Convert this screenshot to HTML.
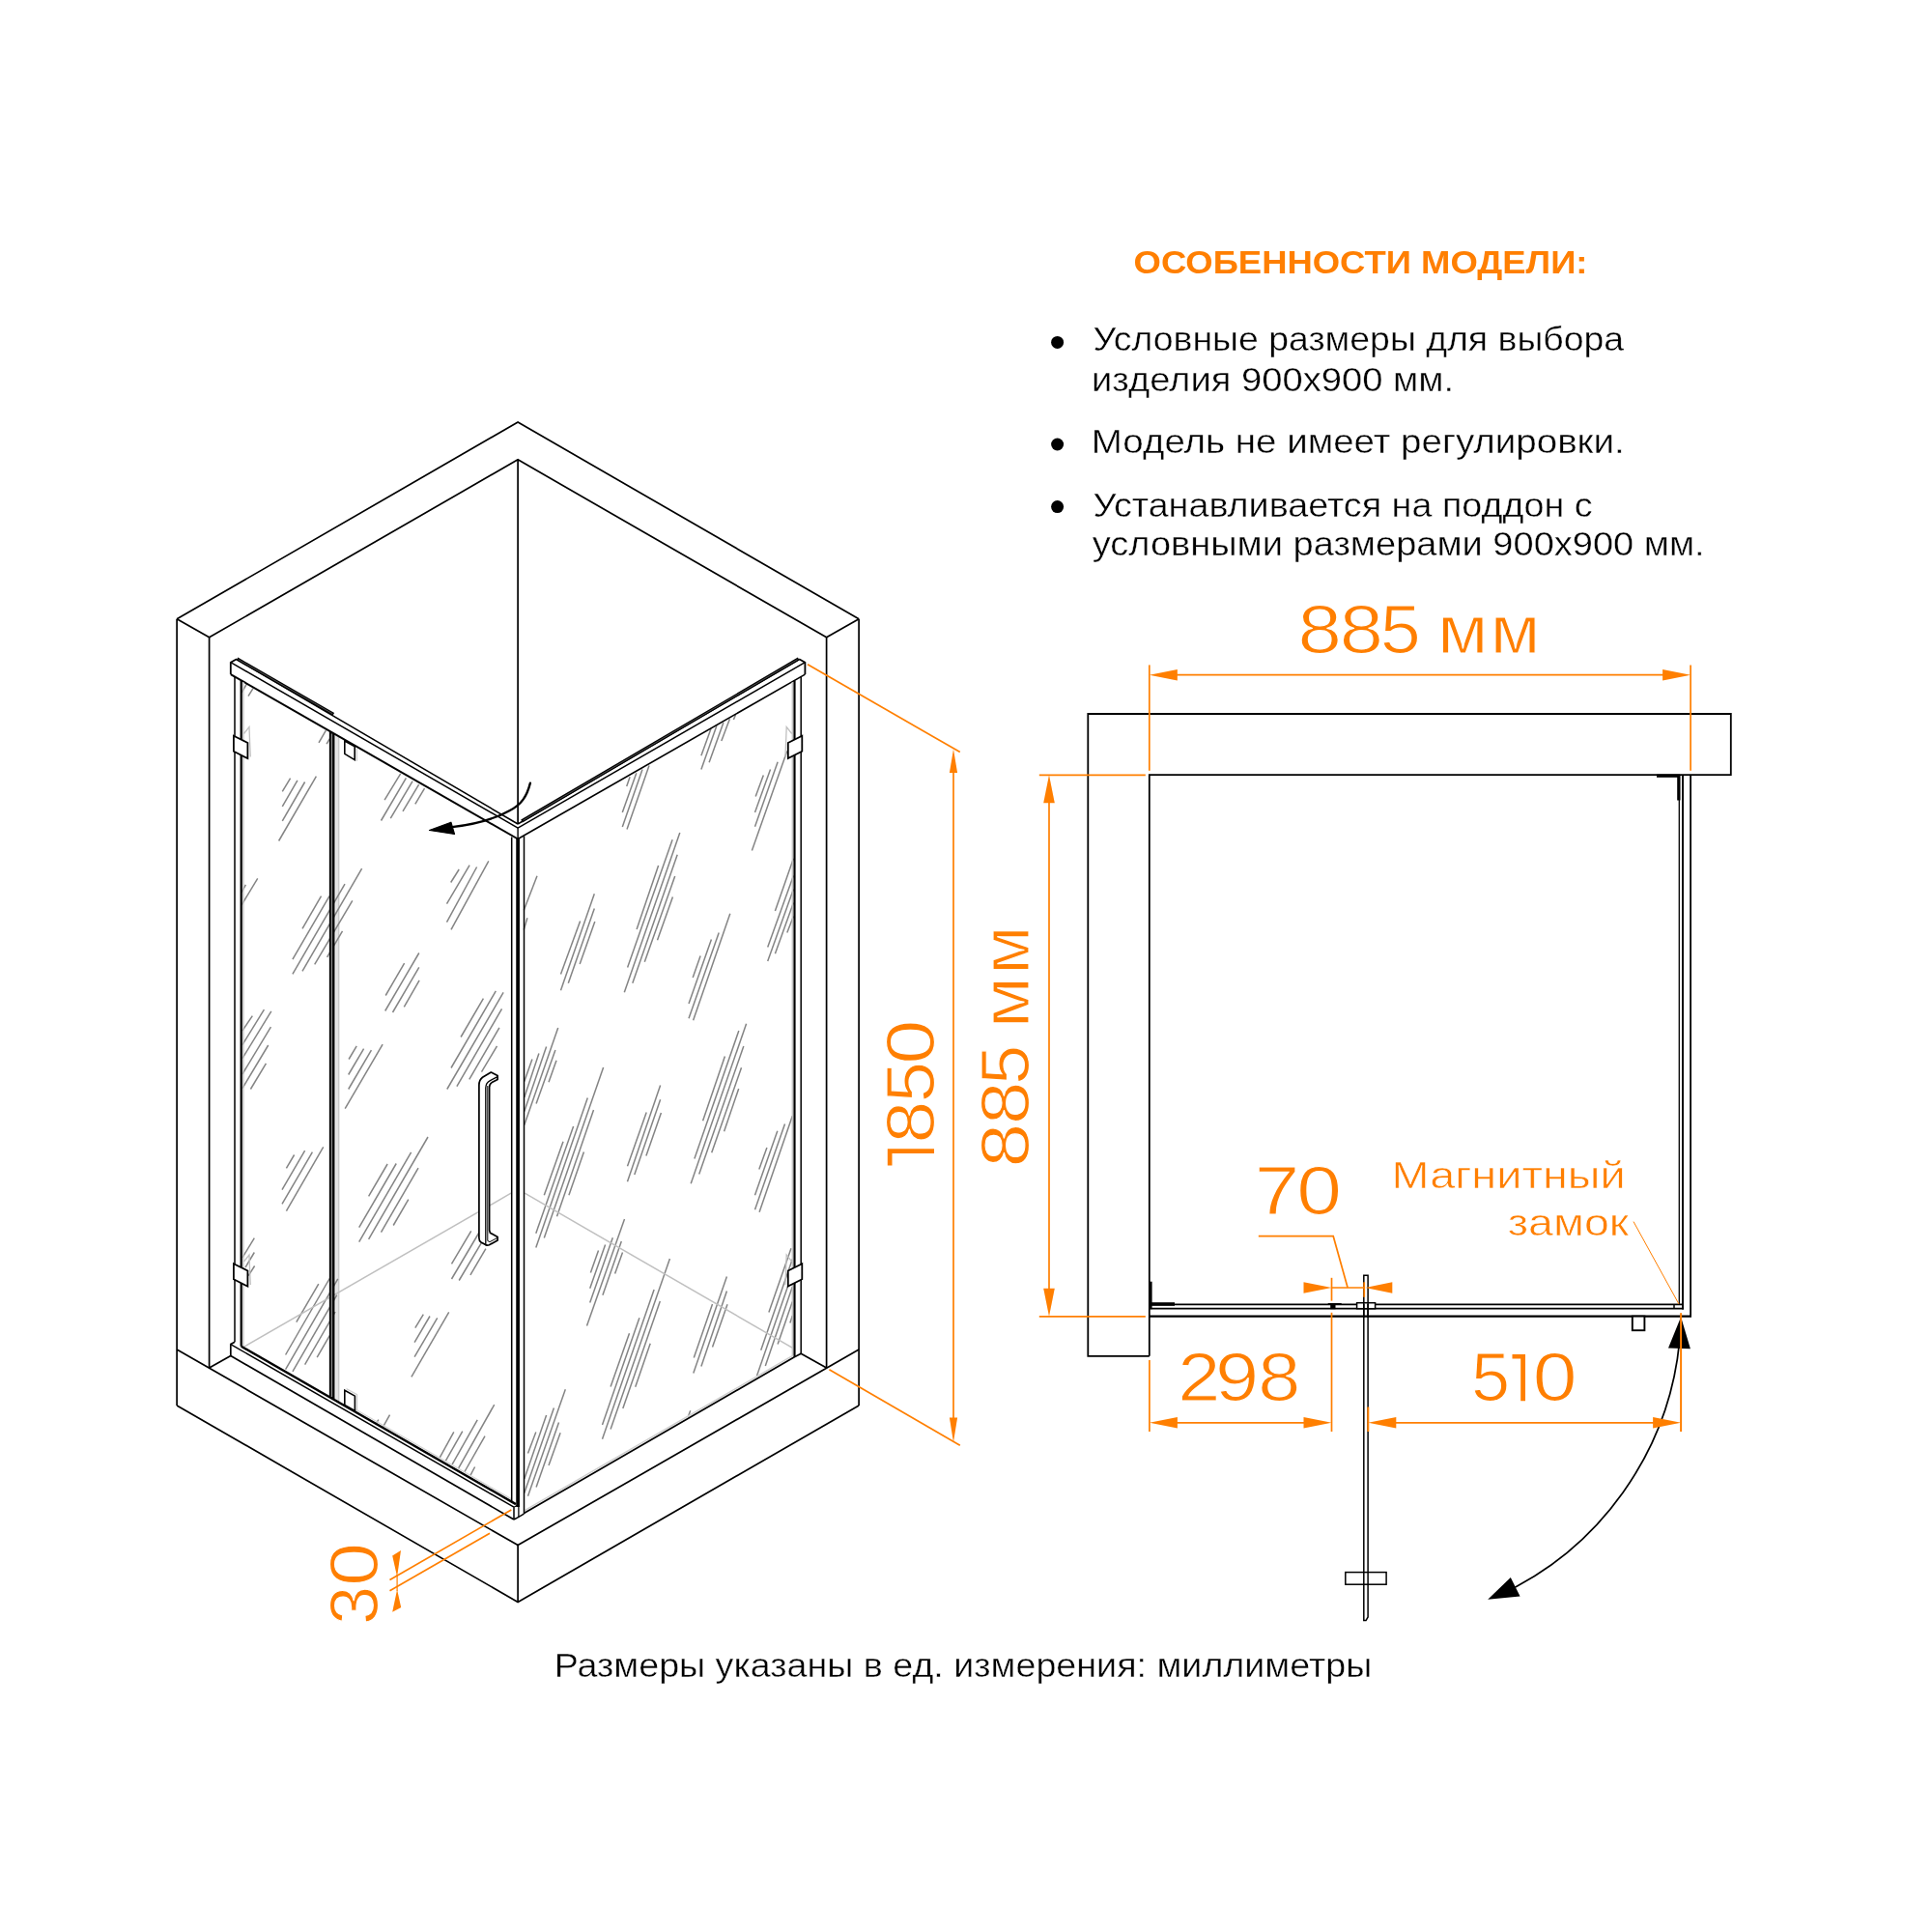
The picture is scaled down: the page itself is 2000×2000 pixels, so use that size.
<!DOCTYPE html>
<html><head><meta charset="utf-8"><title>Shower enclosure drawing</title>
<style>
html,body{margin:0;padding:0;background:#fff;}
body{width:2000px;height:2000px;overflow:hidden;font-family:"Liberation Sans",sans-serif;}
svg{display:block;}
</style></head>
<body>
<svg width="2000" height="2000" viewBox="0 0 2000 2000">
<rect width="2000" height="2000" fill="#fff"/>
<polygon points="347.4,760.8 350.9,762.8 350.9,1451.2 347.4,1449.2" fill="#e4e4e4" stroke="#e4e4e4" stroke-width="0.1" stroke-linejoin="miter" />
<line x1="350.8" y1="763.0" x2="350.8" y2="1451.0" stroke="#c0c0c0" stroke-width="1.0" />
<g id="hatch" stroke-linecap="butt">
<line x1="292.3" y1="819.3" x2="300.6" y2="805.6" stroke="#848484" stroke-width="1.5" />
<line x1="292.3" y1="834.8" x2="307.9" y2="807.9" stroke="#848484" stroke-width="1.5" />
<line x1="292.3" y1="849.8" x2="315.6" y2="809.5" stroke="#848484" stroke-width="1.5" />
<line x1="288.6" y1="870.5" x2="327.4" y2="803.7" stroke="#848484" stroke-width="1.5" />
<line x1="250.1" y1="717.0" x2="255.5" y2="707.8" stroke="#848484" stroke-width="1.5" />
<line x1="257.0" y1="720.6" x2="262.0" y2="712.7" stroke="#848484" stroke-width="1.5" />
<line x1="330.0" y1="768.8" x2="337.4" y2="756.2" stroke="#848484" stroke-width="1.5" />
<line x1="338.1" y1="770.2" x2="341.2" y2="764.8" stroke="#848484" stroke-width="1.5" />
<line x1="398.1" y1="828.1" x2="414.7" y2="800.9" stroke="#848484" stroke-width="1.5" />
<line x1="394.5" y1="849.5" x2="420.4" y2="805.3" stroke="#848484" stroke-width="1.5" />
<line x1="404.3" y1="847.2" x2="427.1" y2="808.7" stroke="#848484" stroke-width="1.5" />
<line x1="417.0" y1="839.8" x2="433.6" y2="812.1" stroke="#848484" stroke-width="1.5" />
<line x1="429.8" y1="832.3" x2="439.5" y2="816.1" stroke="#848484" stroke-width="1.5" />
<line x1="466.7" y1="913.5" x2="475.2" y2="900.0" stroke="#848484" stroke-width="1.5" />
<line x1="462.5" y1="935.7" x2="486.1" y2="895.7" stroke="#848484" stroke-width="1.5" />
<line x1="462.5" y1="954.7" x2="493.6" y2="897.5" stroke="#848484" stroke-width="1.5" />
<line x1="467.0" y1="962.4" x2="505.8" y2="891.3" stroke="#848484" stroke-width="1.5" />
<line x1="250.1" y1="923.6" x2="254.4" y2="915.8" stroke="#848484" stroke-width="1.5" />
<line x1="250.1" y1="936.8" x2="266.7" y2="909.3" stroke="#848484" stroke-width="1.5" />
<line x1="313.0" y1="961.3" x2="332.5" y2="927.6" stroke="#848484" stroke-width="1.5" />
<line x1="302.9" y1="993.2" x2="341.0" y2="927.6" stroke="#848484" stroke-width="1.5" />
<line x1="302.9" y1="1008.3" x2="357.0" y2="915.2" stroke="#848484" stroke-width="1.5" />
<line x1="313.0" y1="1005.3" x2="374.6" y2="899.2" stroke="#848484" stroke-width="1.5" />
<line x1="325.7" y1="998.3" x2="364.8" y2="932.3" stroke="#848484" stroke-width="1.5" />
<line x1="338.6" y1="990.9" x2="354.5" y2="963.9" stroke="#848484" stroke-width="1.5" />
<line x1="250.9" y1="1067.0" x2="261.3" y2="1051.7" stroke="#848484" stroke-width="1.5" />
<line x1="250.9" y1="1081.7" x2="273.4" y2="1045.2" stroke="#848484" stroke-width="1.5" />
<line x1="250.9" y1="1095.7" x2="280.8" y2="1046.8" stroke="#848484" stroke-width="1.5" />
<line x1="250.9" y1="1112.0" x2="280.4" y2="1063.1" stroke="#848484" stroke-width="1.5" />
<line x1="250.9" y1="1126.7" x2="277.7" y2="1082.0" stroke="#848484" stroke-width="1.5" />
<line x1="259.4" y1="1127.5" x2="275.4" y2="1100.8" stroke="#848484" stroke-width="1.5" />
<line x1="296.4" y1="1209.3" x2="304.6" y2="1195.5" stroke="#848484" stroke-width="1.5" />
<line x1="292.0" y1="1231.6" x2="315.6" y2="1191.2" stroke="#848484" stroke-width="1.5" />
<line x1="292.0" y1="1246.3" x2="323.4" y2="1192.7" stroke="#848484" stroke-width="1.5" />
<line x1="296.4" y1="1253.6" x2="334.7" y2="1187.3" stroke="#848484" stroke-width="1.5" />
<line x1="399.2" y1="1030.5" x2="418.6" y2="997.1" stroke="#848484" stroke-width="1.5" />
<line x1="398.7" y1="1046.5" x2="433.8" y2="986.5" stroke="#848484" stroke-width="1.5" />
<line x1="406.5" y1="1048.0" x2="433.8" y2="1001.4" stroke="#848484" stroke-width="1.5" />
<line x1="418.3" y1="1042.4" x2="434.1" y2="1014.9" stroke="#848484" stroke-width="1.5" />
<line x1="361.1" y1="1096.5" x2="369.2" y2="1082.8" stroke="#848484" stroke-width="1.5" />
<line x1="360.7" y1="1112.5" x2="376.6" y2="1085.6" stroke="#848484" stroke-width="1.5" />
<line x1="360.7" y1="1127.5" x2="384.4" y2="1087.1" stroke="#848484" stroke-width="1.5" />
<line x1="357.2" y1="1147.7" x2="396.1" y2="1081.2" stroke="#848484" stroke-width="1.5" />
<line x1="477.1" y1="1073.5" x2="500.4" y2="1033.6" stroke="#848484" stroke-width="1.5" />
<line x1="467.0" y1="1105.5" x2="513.3" y2="1025.8" stroke="#848484" stroke-width="1.5" />
<line x1="462.8" y1="1127.5" x2="521.1" y2="1027.4" stroke="#848484" stroke-width="1.5" />
<line x1="472.9" y1="1124.7" x2="519.5" y2="1044.4" stroke="#848484" stroke-width="1.5" />
<line x1="485.8" y1="1117.4" x2="516.9" y2="1063.9" stroke="#848484" stroke-width="1.5" />
<line x1="498.5" y1="1109.7" x2="514.5" y2="1082.8" stroke="#848484" stroke-width="1.5" />
<line x1="381.6" y1="1238.3" x2="401.1" y2="1205.0" stroke="#848484" stroke-width="1.5" />
<line x1="371.7" y1="1270.6" x2="410.2" y2="1204.5" stroke="#848484" stroke-width="1.5" />
<line x1="371.7" y1="1285.6" x2="425.6" y2="1192.8" stroke="#848484" stroke-width="1.5" />
<line x1="381.6" y1="1282.8" x2="443.0" y2="1177.0" stroke="#848484" stroke-width="1.5" />
<line x1="394.5" y1="1275.6" x2="433.0" y2="1209.2" stroke="#848484" stroke-width="1.5" />
<line x1="407.2" y1="1268.5" x2="422.8" y2="1241.6" stroke="#848484" stroke-width="1.5" />
<line x1="467.5" y1="1308.4" x2="487.7" y2="1274.4" stroke="#848484" stroke-width="1.5" />
<line x1="467.5" y1="1324.0" x2="496.2" y2="1275.5" stroke="#848484" stroke-width="1.5" />
<line x1="475.2" y1="1325.5" x2="498.5" y2="1286.4" stroke="#848484" stroke-width="1.5" />
<line x1="486.9" y1="1319.8" x2="502.9" y2="1292.6" stroke="#848484" stroke-width="1.5" />
<line x1="429.8" y1="1374.6" x2="438.3" y2="1360.6" stroke="#848484" stroke-width="1.5" />
<line x1="429.1" y1="1389.7" x2="445.0" y2="1362.5" stroke="#848484" stroke-width="1.5" />
<line x1="429.1" y1="1404.7" x2="452.7" y2="1364.3" stroke="#848484" stroke-width="1.5" />
<line x1="425.9" y1="1425.4" x2="464.7" y2="1358.3" stroke="#848484" stroke-width="1.5" />
<line x1="455.1" y1="1509.2" x2="469.8" y2="1482.4" stroke="#848484" stroke-width="1.5" />
<line x1="461.3" y1="1512.3" x2="478.8" y2="1481.6" stroke="#848484" stroke-width="1.5" />
<line x1="468.0" y1="1516.2" x2="494.2" y2="1469.9" stroke="#848484" stroke-width="1.5" />
<line x1="474.5" y1="1520.1" x2="511.7" y2="1454.1" stroke="#848484" stroke-width="1.5" />
<line x1="480.7" y1="1524.0" x2="502.0" y2="1486.7" stroke="#848484" stroke-width="1.5" />
<line x1="486.9" y1="1527.4" x2="491.6" y2="1518.5" stroke="#848484" stroke-width="1.5" />
<line x1="396.8" y1="1476.6" x2="403.5" y2="1464.7" stroke="#848484" stroke-width="1.5" />
<line x1="389.8" y1="1472.7" x2="391.9" y2="1469.6" stroke="#848484" stroke-width="1.5" />
<line x1="250.9" y1="1301.9" x2="263.3" y2="1281.7" stroke="#848484" stroke-width="1.5" />
<line x1="254.0" y1="1312.0" x2="263.3" y2="1296.5" stroke="#848484" stroke-width="1.5" />
<line x1="257.1" y1="1320.6" x2="263.6" y2="1310.5" stroke="#848484" stroke-width="1.5" />
<line x1="306.8" y1="1368.7" x2="329.8" y2="1329.1" stroke="#848484" stroke-width="1.5" />
<line x1="295.6" y1="1402.5" x2="341.2" y2="1323.5" stroke="#848484" stroke-width="1.5" />
<line x1="295.6" y1="1417.6" x2="349.8" y2="1323.8" stroke="#848484" stroke-width="1.5" />
<line x1="302.9" y1="1419.9" x2="348.7" y2="1340.6" stroke="#848484" stroke-width="1.5" />
<line x1="315.6" y1="1412.6" x2="347.1" y2="1358.0" stroke="#848484" stroke-width="1.5" />
<line x1="328.2" y1="1405.2" x2="341.2" y2="1382.7" stroke="#848484" stroke-width="1.5" />
<line x1="725.9" y1="782.3" x2="736.0" y2="754.3" stroke="#848484" stroke-width="1.5" />
<line x1="725.9" y1="796.6" x2="741.9" y2="751.2" stroke="#848484" stroke-width="1.5" />
<line x1="734.1" y1="789.3" x2="748.9" y2="748.1" stroke="#848484" stroke-width="1.5" />
<line x1="746.8" y1="767.1" x2="755.4" y2="744.3" stroke="#848484" stroke-width="1.5" />
<line x1="759.4" y1="745.0" x2="761.6" y2="739.6" stroke="#848484" stroke-width="1.5" />
<line x1="648.7" y1="814.1" x2="652.1" y2="804.3" stroke="#848484" stroke-width="1.5" />
<line x1="644.3" y1="841.0" x2="658.8" y2="800.2" stroke="#848484" stroke-width="1.5" />
<line x1="644.3" y1="856.1" x2="665.0" y2="796.6" stroke="#848484" stroke-width="1.5" />
<line x1="649.0" y1="858.4" x2="672.0" y2="792.4" stroke="#848484" stroke-width="1.5" />
<line x1="782.2" y1="824.5" x2="790.3" y2="802.5" stroke="#848484" stroke-width="1.5" />
<line x1="781.5" y1="841.0" x2="797.5" y2="796.6" stroke="#848484" stroke-width="1.5" />
<line x1="781.5" y1="855.7" x2="805.1" y2="788.8" stroke="#848484" stroke-width="1.5" />
<line x1="778.4" y1="880.4" x2="814.8" y2="777.6" stroke="#848484" stroke-width="1.5" />
<line x1="659.1" y1="962.1" x2="681.6" y2="896.0" stroke="#848484" stroke-width="1.5" />
<line x1="649.6" y1="1001.4" x2="696.1" y2="869.3" stroke="#848484" stroke-width="1.5" />
<line x1="646.3" y1="1027.3" x2="703.8" y2="862.0" stroke="#848484" stroke-width="1.5" />
<line x1="654.8" y1="1017.7" x2="701.2" y2="884.8" stroke="#848484" stroke-width="1.5" />
<line x1="667.3" y1="995.8" x2="698.7" y2="907.0" stroke="#848484" stroke-width="1.5" />
<line x1="680.5" y1="973.3" x2="696.4" y2="928.6" stroke="#848484" stroke-width="1.5" />
<line x1="542.3" y1="942.2" x2="556.0" y2="906.8" stroke="#848484" stroke-width="1.5" />
<line x1="542.3" y1="962.4" x2="545.9" y2="950.3" stroke="#848484" stroke-width="1.5" />
<line x1="580.5" y1="1008.4" x2="600.6" y2="953.6" stroke="#848484" stroke-width="1.5" />
<line x1="580.5" y1="1025.2" x2="615.3" y2="925.2" stroke="#848484" stroke-width="1.5" />
<line x1="588.3" y1="1017.7" x2="615.3" y2="940.4" stroke="#848484" stroke-width="1.5" />
<line x1="600.2" y1="998.1" x2="615.8" y2="953.9" stroke="#848484" stroke-width="1.5" />
<line x1="802.4" y1="943.0" x2="821.4" y2="888.7" stroke="#848484" stroke-width="1.5" />
<line x1="794.7" y1="980.6" x2="821.4" y2="906.5" stroke="#848484" stroke-width="1.5" />
<line x1="794.7" y1="995.0" x2="821.4" y2="920.5" stroke="#848484" stroke-width="1.5" />
<line x1="802.4" y1="987.3" x2="821.4" y2="934.5" stroke="#848484" stroke-width="1.5" />
<line x1="814.8" y1="965.5" x2="821.4" y2="948.4" stroke="#848484" stroke-width="1.5" />
<line x1="717.2" y1="1011.9" x2="725.1" y2="989.6" stroke="#848484" stroke-width="1.5" />
<line x1="713.0" y1="1039.0" x2="736.4" y2="972.5" stroke="#848484" stroke-width="1.5" />
<line x1="713.0" y1="1054.3" x2="744.2" y2="965.5" stroke="#848484" stroke-width="1.5" />
<line x1="717.6" y1="1056.3" x2="755.8" y2="945.8" stroke="#848484" stroke-width="1.5" />
<line x1="542.8" y1="1119.6" x2="550.9" y2="1096.6" stroke="#848484" stroke-width="1.5" />
<line x1="542.8" y1="1135.9" x2="557.9" y2="1090.5" stroke="#848484" stroke-width="1.5" />
<line x1="542.8" y1="1150.6" x2="565.6" y2="1083.5" stroke="#848484" stroke-width="1.5" />
<line x1="542.8" y1="1164.6" x2="577.7" y2="1064.0" stroke="#848484" stroke-width="1.5" />
<line x1="555.1" y1="1142.5" x2="574.9" y2="1087.0" stroke="#848484" stroke-width="1.5" />
<line x1="568.0" y1="1120.3" x2="576.0" y2="1097.8" stroke="#848484" stroke-width="1.5" />
<line x1="563.3" y1="1237.3" x2="583.0" y2="1181.7" stroke="#848484" stroke-width="1.5" />
<line x1="554.8" y1="1276.7" x2="593.6" y2="1166.1" stroke="#848484" stroke-width="1.5" />
<line x1="554.8" y1="1291.6" x2="608.3" y2="1136.6" stroke="#848484" stroke-width="1.5" />
<line x1="563.3" y1="1281.4" x2="624.6" y2="1105.1" stroke="#848484" stroke-width="1.5" />
<line x1="576.5" y1="1259.3" x2="614.5" y2="1149.1" stroke="#848484" stroke-width="1.5" />
<line x1="588.9" y1="1237.3" x2="604.4" y2="1192.5" stroke="#848484" stroke-width="1.5" />
<line x1="649.5" y1="1207.3" x2="669.2" y2="1151.4" stroke="#848484" stroke-width="1.5" />
<line x1="649.5" y1="1223.3" x2="683.6" y2="1123.4" stroke="#848484" stroke-width="1.5" />
<line x1="656.8" y1="1216.1" x2="683.6" y2="1138.2" stroke="#848484" stroke-width="1.5" />
<line x1="668.9" y1="1196.4" x2="684.4" y2="1151.9" stroke="#848484" stroke-width="1.5" />
<line x1="727.6" y1="1160.2" x2="750.4" y2="1093.6" stroke="#848484" stroke-width="1.5" />
<line x1="718.9" y1="1199.5" x2="764.8" y2="1067.1" stroke="#848484" stroke-width="1.5" />
<line x1="715.2" y1="1225.2" x2="772.6" y2="1059.8" stroke="#848484" stroke-width="1.5" />
<line x1="723.7" y1="1215.5" x2="769.8" y2="1083.1" stroke="#848484" stroke-width="1.5" />
<line x1="736.7" y1="1193.3" x2="767.5" y2="1105.3" stroke="#848484" stroke-width="1.5" />
<line x1="749.6" y1="1171.3" x2="764.7" y2="1126.9" stroke="#848484" stroke-width="1.5" />
<line x1="785.8" y1="1210.4" x2="793.9" y2="1187.9" stroke="#848484" stroke-width="1.5" />
<line x1="781.5" y1="1237.3" x2="804.8" y2="1170.8" stroke="#848484" stroke-width="1.5" />
<line x1="781.5" y1="1252.3" x2="812.5" y2="1163.5" stroke="#848484" stroke-width="1.5" />
<line x1="786.1" y1="1254.7" x2="820.3" y2="1155.3" stroke="#848484" stroke-width="1.5" />
<line x1="611.4" y1="1317.4" x2="619.5" y2="1294.4" stroke="#848484" stroke-width="1.5" />
<line x1="610.7" y1="1333.7" x2="626.6" y2="1288.6" stroke="#848484" stroke-width="1.5" />
<line x1="610.7" y1="1348.4" x2="634.3" y2="1281.2" stroke="#848484" stroke-width="1.5" />
<line x1="607.5" y1="1372.5" x2="646.5" y2="1262.0" stroke="#848484" stroke-width="1.5" />
<line x1="623.9" y1="1340.7" x2="643.3" y2="1285.1" stroke="#848484" stroke-width="1.5" />
<line x1="636.6" y1="1318.6" x2="644.5" y2="1296.4" stroke="#848484" stroke-width="1.5" />
<line x1="632.1" y1="1435.4" x2="651.5" y2="1380.2" stroke="#848484" stroke-width="1.5" />
<line x1="623.5" y1="1475.0" x2="661.9" y2="1364.3" stroke="#848484" stroke-width="1.5" />
<line x1="623.5" y1="1489.7" x2="677.1" y2="1334.9" stroke="#848484" stroke-width="1.5" />
<line x1="632.1" y1="1479.6" x2="693.4" y2="1302.9" stroke="#848484" stroke-width="1.5" />
<line x1="644.8" y1="1457.9" x2="683.3" y2="1346.9" stroke="#848484" stroke-width="1.5" />
<line x1="657.7" y1="1435.8" x2="673.2" y2="1390.8" stroke="#848484" stroke-width="1.5" />
<line x1="718.3" y1="1405.4" x2="737.5" y2="1350.0" stroke="#848484" stroke-width="1.5" />
<line x1="717.8" y1="1421.4" x2="752.4" y2="1321.6" stroke="#848484" stroke-width="1.5" />
<line x1="725.9" y1="1414.4" x2="752.4" y2="1336.5" stroke="#848484" stroke-width="1.5" />
<line x1="737.5" y1="1394.5" x2="753.0" y2="1350.3" stroke="#848484" stroke-width="1.5" />
<line x1="795.9" y1="1358.5" x2="819.0" y2="1292.2" stroke="#848484" stroke-width="1.5" />
<line x1="787.7" y1="1397.8" x2="820.3" y2="1303.4" stroke="#848484" stroke-width="1.5" />
<line x1="783.5" y1="1424.2" x2="820.3" y2="1318.0" stroke="#848484" stroke-width="1.5" />
<line x1="792.3" y1="1414.1" x2="820.3" y2="1332.0" stroke="#848484" stroke-width="1.5" />
<line x1="805.1" y1="1391.6" x2="820.3" y2="1347.6" stroke="#848484" stroke-width="1.5" />
<line x1="817.9" y1="1369.4" x2="820.3" y2="1362.0" stroke="#848484" stroke-width="1.5" />
<line x1="546.5" y1="1504.5" x2="554.8" y2="1482.4" stroke="#848484" stroke-width="1.5" />
<line x1="542.8" y1="1530.9" x2="565.6" y2="1464.9" stroke="#848484" stroke-width="1.5" />
<line x1="542.8" y1="1545.6" x2="573.4" y2="1457.6" stroke="#848484" stroke-width="1.5" />
<line x1="546.5" y1="1548.7" x2="585.3" y2="1438.2" stroke="#848484" stroke-width="1.5" />
<line x1="555.1" y1="1539.4" x2="578.5" y2="1472.6" stroke="#848484" stroke-width="1.5" />
<line x1="568.0" y1="1516.9" x2="580.1" y2="1483.2" stroke="#848484" stroke-width="1.5" />
<line x1="712.4" y1="1466.4" x2="714.7" y2="1460.2" stroke="#848484" stroke-width="1.5" />
</g>
<line x1="252.0" y1="1394.6" x2="529.0" y2="1235.2" stroke="#c0c0c0" stroke-width="1.5" />
<line x1="543.2" y1="1235.2" x2="820.5" y2="1395.3" stroke="#c0c0c0" stroke-width="1.5" />
<polyline points="183.1,640.8 536.1,437.0 889.1,640.8" fill="none" stroke="#000" stroke-width="1.7" stroke-linejoin="miter" />
<polyline points="216.6,659.8 536.1,475.8 855.6,659.8" fill="none" stroke="#000" stroke-width="1.7" stroke-linejoin="miter" />
<line x1="183.1" y1="640.8" x2="216.6" y2="659.8" stroke="#000" stroke-width="1.7" />
<line x1="889.1" y1="640.8" x2="855.6" y2="659.8" stroke="#000" stroke-width="1.7" />
<line x1="183.1" y1="640.8" x2="183.1" y2="1455.0" stroke="#000" stroke-width="1.7" />
<line x1="889.1" y1="640.8" x2="889.1" y2="1455.0" stroke="#000" stroke-width="1.7" />
<line x1="216.6" y1="659.8" x2="216.6" y2="1416.0" stroke="#000" stroke-width="1.7" />
<line x1="855.6" y1="659.8" x2="855.6" y2="1416.0" stroke="#000" stroke-width="1.7" />
<line x1="536.1" y1="475.8" x2="536.1" y2="853.0" stroke="#000" stroke-width="1.7" />
<polyline points="183.1,1397.0 536.1,1599.6 889.1,1397.0" fill="none" stroke="#000" stroke-width="1.7" stroke-linejoin="miter" />
<polyline points="183.1,1455.0 536.1,1658.4 889.1,1455.0" fill="none" stroke="#000" stroke-width="1.7" stroke-linejoin="miter" />
<line x1="536.1" y1="1599.6" x2="536.1" y2="1658.4" stroke="#000" stroke-width="1.7" />
<line x1="216.6" y1="1416.0" x2="238.8" y2="1403.5" stroke="#000" stroke-width="1.7" />
<line x1="855.6" y1="1416.0" x2="829.2" y2="1401.3" stroke="#000" stroke-width="1.7" />
<line x1="245.0" y1="682.6" x2="536.1" y2="853.0" stroke="#000" stroke-width="1.5" />
<line x1="245.5" y1="682.0" x2="345.3" y2="739.4" stroke="#000" stroke-width="3.2" />
<line x1="246.7" y1="682.7" x2="344.3" y2="738.8" stroke="#9a9a9a" stroke-width="0.5" />
<line x1="238.8" y1="685.7" x2="536.1" y2="857.1" stroke="#000" stroke-width="1.5" />
<line x1="238.8" y1="698.1" x2="536.1" y2="868.5" stroke="#000" stroke-width="2.0" />
<polyline points="245.0,682.3 238.8,685.7 238.8,698.1" fill="none" stroke="#000" stroke-width="1.8" stroke-linejoin="miter" />
<line x1="827.2" y1="682.6" x2="536.1" y2="853.0" stroke="#000" stroke-width="1.5" />
<line x1="826.7" y1="682.0" x2="540.0" y2="850.0" stroke="#000" stroke-width="3.2" />
<line x1="825.5" y1="682.7" x2="541.5" y2="849.2" stroke="#9a9a9a" stroke-width="0.5" />
<line x1="833.4" y1="685.7" x2="536.1" y2="857.1" stroke="#000" stroke-width="1.5" />
<line x1="833.4" y1="698.1" x2="536.1" y2="868.5" stroke="#000" stroke-width="1.6" />
<polyline points="827.2,682.3 833.4,685.7 833.4,698.1" fill="none" stroke="#000" stroke-width="1.8" stroke-linejoin="miter" />
<line x1="536.1" y1="857.1" x2="536.1" y2="868.5" stroke="#000" stroke-width="1.4" />
<line x1="251.9" y1="706.0" x2="251.9" y2="1394.0" stroke="#c0c0c0" stroke-width="1.3" />
<line x1="243.0" y1="700.5" x2="243.0" y2="1389.2" stroke="#000" stroke-width="1.5" />
<line x1="249.7" y1="704.4" x2="249.7" y2="1393.7" stroke="#000" stroke-width="2.2" />
<line x1="820.3" y1="706.0" x2="820.3" y2="1403.0" stroke="#c0c0c0" stroke-width="1.3" />
<line x1="829.2" y1="700.5" x2="829.2" y2="1401.3" stroke="#000" stroke-width="1.5" />
<line x1="822.5" y1="704.4" x2="822.5" y2="1404.8" stroke="#000" stroke-width="2.2" />
<line x1="249.7" y1="1393.7" x2="534.0" y2="1557.1" stroke="#000" stroke-width="2.4" />
<line x1="238.8" y1="1391.6" x2="532.0" y2="1560.2" stroke="#000" stroke-width="1.5" />
<line x1="238.8" y1="1403.5" x2="532.0" y2="1573.0" stroke="#000" stroke-width="1.7" />
<polyline points="243.0,1389.2 238.8,1391.6 238.8,1403.5" fill="none" stroke="#000" stroke-width="1.7" stroke-linejoin="miter" />
<line x1="532.0" y1="1560.2" x2="532.0" y2="1573.0" stroke="#000" stroke-width="1.5" />
<polyline points="532.0,1560.2 536.5,1557.8" fill="none" stroke="#000" stroke-width="1.3" stroke-linejoin="miter" />
<polyline points="532.0,1573.0 536.9,1570.3 542.4,1567.2" fill="none" stroke="#000" stroke-width="1.5" stroke-linejoin="miter" />
<line x1="536.9" y1="1559.0" x2="536.9" y2="1570.3" stroke="#000" stroke-width="1.3" />
<line x1="543.2" y1="1563.6" x2="821.0" y2="1403.2" stroke="#cfcfcf" stroke-width="1.5" />
<polyline points="542.4,1566.6 822.4,1404.8 829.2,1401.3" fill="none" stroke="#000" stroke-width="1.7" stroke-linejoin="miter" />
<line x1="368.0" y1="1459.0" x2="529.0" y2="1551.6" stroke="#d4d4d4" stroke-width="1.3" />
<line x1="529.7" y1="866.4" x2="529.7" y2="1554.6" stroke="#000" stroke-width="1.5" />
<line x1="542.5" y1="865.4" x2="542.5" y2="1567.2" stroke="#000" stroke-width="1.5" />
<line x1="536.1" y1="867.5" x2="536.1" y2="1560.0" stroke="#000" stroke-width="3.7" />
<polygon points="341.0,757.0 346.3,760.0 346.3,1448.6 341.0,1445.6" fill="#000" stroke="#000" stroke-width="0.3" stroke-linejoin="miter" />
<line x1="343.4" y1="759.5" x2="343.4" y2="1446.0" stroke="#858585" stroke-width="1.4" />
<polyline points="369.3,774.5 369.3,788.0" fill="none" stroke="#cfcfcf" stroke-width="1.3" stroke-linejoin="miter" />
<polygon points="356.8,767.0 367.2,772.7 367.2,786.6 356.8,780.4" fill="#fff" stroke="#000" stroke-width="1.6" stroke-linejoin="miter" />
<polyline points="358.5,1437.6 369.6,1443.6 369.6,1460.0" fill="none" stroke="#cfcfcf" stroke-width="1.2" stroke-linejoin="miter" />
<polygon points="356.8,1439.3 367.4,1445.1 367.4,1460.5 356.8,1454.5" fill="#fff" stroke="#000" stroke-width="1.6" stroke-linejoin="miter" />
<polyline points="252.5,759.5 258.0,752.5 258.6,768.5 259.3,783.5" fill="none" stroke="#c0c0c0" stroke-width="1.3" stroke-linejoin="miter" />
<polygon points="241.9,761.8 256.4,769.0 256.4,785.1 241.9,777.8" fill="#fff" stroke="#000" stroke-width="1.8" stroke-linejoin="miter" />
<polyline points="252.5,1306.0 258.0,1299.0 258.6,1315.0 259.3,1330.0" fill="none" stroke="#c0c0c0" stroke-width="1.3" stroke-linejoin="miter" />
<polygon points="241.9,1308.3 256.4,1315.5 256.4,1331.6 241.9,1324.3" fill="#fff" stroke="#000" stroke-width="1.8" stroke-linejoin="miter" />
<polyline points="819.7,759.5 814.2,752.5 813.6,768.5 812.9,783.5" fill="none" stroke="#c0c0c0" stroke-width="1.3" stroke-linejoin="miter" />
<polygon points="830.3,761.8 815.8,769.0 815.8,785.1 830.3,777.8" fill="#fff" stroke="#000" stroke-width="1.8" stroke-linejoin="miter" />
<polyline points="819.7,1306.0 814.2,1299.0 813.6,1315.0 812.9,1330.0" fill="none" stroke="#c0c0c0" stroke-width="1.3" stroke-linejoin="miter" />
<polygon points="830.3,1308.3 815.8,1315.5 815.8,1331.6 830.3,1324.3" fill="#fff" stroke="#000" stroke-width="1.8" stroke-linejoin="miter" />
<path d="M508.3,1110 L515.1,1113.6 L515.1,1117.6 L509.2,1120.6 Q506.6,1122.2 506.6,1125.5 L506.6,1273.5 L507.4,1276.2 L515.1,1280.6 L515.1,1284 L506.4,1288.8 Q504.5,1289.4 502.6,1288.6 L498,1286 Q495.9,1284.6 495.9,1281.5 L495.9,1123.5 Q495.9,1118 499.5,1115.3 Z" fill="#fff" stroke="#000" stroke-width="1.7" stroke-linejoin="round"/>
<path d="M515.1,1114.6 L507.4,1118.6 Q502.8,1121 502.8,1126 L502.8,1288.3" fill="none" stroke="#000" stroke-width="1.3"/>
<path d="M504.8,1124 L504.8,1284.5 L507,1285.6 L515.1,1281.3" fill="none" stroke="#000" stroke-width="1.0"/>
<path d="M548.9,810.6 C545.5,824 540,833 527.3,839.2 C511,848.5 490,853.5 468,856.2" fill="none" stroke="#000" stroke-width="2.3" stroke-linecap="round"/>
<polygon points="444.5,859.5 466.9,851.2 470.5,863.4" fill="#000" stroke="#000" stroke-width="1.2" stroke-linejoin="round"/>
<line x1="836.0" y1="687.7" x2="993.8" y2="778.6" stroke="#FF7F00" stroke-width="1.7" />
<line x1="858.4" y1="1417.8" x2="993.8" y2="1496.2" stroke="#FF7F00" stroke-width="1.7" />
<line x1="987.0" y1="790.0" x2="987.0" y2="1480.0" stroke="#FF7F00" stroke-width="1.7" />
<polygon points="987,775.5 982.9,800 991.1,800" fill="#FF7F00"/>
<polygon points="987,1493 982.9,1467.5 991.1,1467.5" fill="#FF7F00"/>
<line x1="529.3" y1="1563.0" x2="403.5" y2="1635.4" stroke="#FF7F00" stroke-width="1.7" />
<line x1="507.0" y1="1587.2" x2="403.5" y2="1646.8" stroke="#FF7F00" stroke-width="1.7" />
<polygon points="411.1,1632.2 406.2,1610.6 415,1605" fill="#FF7F00"/>
<polygon points="411.1,1645.4 406.2,1668.8 415.2,1664" fill="#FF7F00"/>
<line x1="411.1" y1="1630.0" x2="411.1" y2="1647.0" stroke="#FF7F00" stroke-width="1.2" />
<polyline points="1189.8,1403.8 1126.3,1403.8 1126.3,739.0 1791.8,739.0 1791.8,802.2 1189.8,802.2 1189.8,1403.8" fill="none" stroke="#000" stroke-width="1.8" stroke-linejoin="miter" />
<line x1="1750.1" y1="802.2" x2="1750.1" y2="1362.6" stroke="#000" stroke-width="1.8" />
<line x1="1189.8" y1="1362.6" x2="1751.0" y2="1362.6" stroke="#000" stroke-width="2.2" />
<line x1="1190.5" y1="1350.3" x2="1742.0" y2="1350.3" stroke="#000" stroke-width="1.7" />
<line x1="1190.5" y1="1354.6" x2="1743.0" y2="1354.6" stroke="#000" stroke-width="1.8" />
<line x1="1742.0" y1="803.0" x2="1742.0" y2="1355.5" stroke="#000" stroke-width="1.9" />
<line x1="1738.3" y1="803.0" x2="1738.3" y2="1350.5" stroke="#000" stroke-width="1.3" />
<rect x="1715" y="801.6" width="24" height="3.2" fill="#000"/>
<rect x="1736.2" y="802" width="3.3" height="26.5" fill="#000"/>
<rect x="1189.6" y="1326.7" width="3" height="28.5" fill="#000"/>
<rect x="1190" y="1348.2" width="26" height="3.6" fill="#000"/>
<rect x="1377.2" y="1349.6" width="5.3" height="5.6" fill="#000"/>
<rect x="1374.7" y="1349" width="14" height="2" fill="#000"/>
<rect x="1404.6" y="1348.7" width="19" height="6" fill="#fff" stroke="#000" stroke-width="1.5"/>
<line x1="1733.0" y1="1350.3" x2="1733.0" y2="1354.6" stroke="#000" stroke-width="1.5" />
<rect x="1689.8" y="1362.6" width="12.6" height="14.6" fill="#fff" stroke="#000" stroke-width="1.9"/>
<path d="M1411.8,1363 L1411.8,1320.3 L1416.1,1320.3 L1416.1,1674 L1414,1677.6 L1411.8,1677.6 L1411.8,1363" fill="none" stroke="#000" stroke-width="1.5"/>
<rect x="1392.8" y="1627.6" width="42.3" height="12.6" fill="none" stroke="#000" stroke-width="1.5"/>
<line x1="1411.8" y1="1350.0" x2="1411.8" y2="1364.0" stroke="#000" stroke-width="1.5" />
<line x1="1416.1" y1="1350.0" x2="1416.1" y2="1364.0" stroke="#000" stroke-width="1.5" />
<path d="M1738.7,1388.1 A324,324 0 0 1 1550.6,1651.8" fill="none" stroke="#000" stroke-width="1.7"/>
<polygon points="1740.1,1363.2 1727,1395.4 1749.9,1396.2" fill="#000"/>
<polygon points="1540.2,1655.8 1563.8,1633 1573.6,1652.4" fill="#000"/>
<line x1="1189.8" y1="688.4" x2="1189.8" y2="797.8" stroke="#FF7F00" stroke-width="1.7" />
<line x1="1750.1" y1="688.4" x2="1750.1" y2="797.8" stroke="#FF7F00" stroke-width="1.7" />
<line x1="1200.0" y1="698.7" x2="1740.0" y2="698.7" stroke="#FF7F00" stroke-width="1.7" />
<polygon points="1189.8,698.7 1218.8,692.9000000000001 1218.8,704.5" fill="#FF7F00"/>
<polygon points="1750.1,698.7 1721.1,692.9000000000001 1721.1,704.5" fill="#FF7F00"/>
<line x1="1075.8" y1="802.3" x2="1185.8" y2="802.3" stroke="#FF7F00" stroke-width="1.7" />
<line x1="1075.8" y1="1362.8" x2="1185.8" y2="1362.8" stroke="#FF7F00" stroke-width="1.7" />
<line x1="1086.0" y1="812.0" x2="1086.0" y2="1352.0" stroke="#FF7F00" stroke-width="1.7" />
<polygon points="1086,802.3 1080.2,831.3 1091.8,831.3" fill="#FF7F00"/>
<polygon points="1086,1362.8 1080.2,1333.8 1091.8,1333.8" fill="#FF7F00"/>
<line x1="1189.9" y1="1408.0" x2="1189.9" y2="1482.0" stroke="#FF7F00" stroke-width="1.7" />
<line x1="1378.5" y1="1358.8" x2="1378.5" y2="1482.0" stroke="#FF7F00" stroke-width="1.7" />
<line x1="1378.5" y1="1322.8" x2="1378.5" y2="1346.6" stroke="#FF7F00" stroke-width="1.7" />
<line x1="1200.0" y1="1472.8" x2="1370.0" y2="1472.8" stroke="#FF7F00" stroke-width="1.7" />
<polygon points="1189.9,1472.8 1218.9,1467.0 1218.9,1478.6" fill="#FF7F00"/>
<polygon points="1378.5,1472.8 1349.5,1467.0 1349.5,1478.6" fill="#FF7F00"/>
<line x1="1416.3" y1="1456.5" x2="1416.3" y2="1482.0" stroke="#FF7F00" stroke-width="2.0" />
<line x1="1740.1" y1="1359.2" x2="1740.1" y2="1482.0" stroke="#FF7F00" stroke-width="2.0" />
<line x1="1425.0" y1="1472.8" x2="1730.0" y2="1472.8" stroke="#FF7F00" stroke-width="1.7" />
<polygon points="1416.3,1472.8 1445.3,1467.0 1445.3,1478.6" fill="#FF7F00"/>
<polygon points="1740.1,1472.8 1711.1,1467.0 1711.1,1478.6" fill="#FF7F00"/>
<polyline points="1302.8,1279.7 1380.2,1279.7 1395.1,1333.0" fill="none" stroke="#FF7F00" stroke-width="1.7" stroke-linejoin="miter" />
<line x1="1378.5" y1="1333.0" x2="1413.0" y2="1333.0" stroke="#FF7F00" stroke-width="1.7" />
<polygon points="1378.5,1333 1349.5,1327.2 1349.5,1338.8" fill="#FF7F00"/>
<polygon points="1413.3,1333 1441.3,1327.2 1441.3,1338.8" fill="#FF7F00"/>
<line x1="1412.2" y1="1327.3" x2="1412.2" y2="1342.8" stroke="#FF7F00" stroke-width="1.8" />
<line x1="1691.0" y1="1264.6" x2="1738.0" y2="1350.0" stroke="#FF7F00" stroke-width="1.0" />
<g id="texts" opacity="0.999">
<text x="1173.59" y="282.90" font-size="33.5" font-family="Liberation Sans, sans-serif" font-weight="bold" fill="#FF7F00" textLength="469.90" lengthAdjust="spacingAndGlyphs">ОСОБЕННОСТИ МОДЕЛИ:</text>
<circle cx="1094.6" cy="354.4" r="6.5" fill="#000"/>
<circle cx="1094.6" cy="460.0" r="6.5" fill="#000"/>
<circle cx="1094.6" cy="524.6" r="6.5" fill="#000"/>
<text x="1131.50" y="363.20" font-size="34.3" font-family="Liberation Sans, sans-serif" font-weight="normal" fill="#000" textLength="549.65" lengthAdjust="spacingAndGlyphs" stroke="#fff" stroke-width="0.4">Условные размеры для выбора</text>
<text x="1129.92" y="404.70" font-size="34.3" font-family="Liberation Sans, sans-serif" font-weight="normal" fill="#000" textLength="375.25" lengthAdjust="spacingAndGlyphs" stroke="#fff" stroke-width="0.4">изделия 900х900 мм.</text>
<text x="1129.83" y="469.40" font-size="34.3" font-family="Liberation Sans, sans-serif" font-weight="normal" fill="#000" textLength="551.87" lengthAdjust="spacingAndGlyphs" stroke="#fff" stroke-width="0.4">Модель не имеет регулировки.</text>
<text x="1131.49" y="534.50" font-size="34.3" font-family="Liberation Sans, sans-serif" font-weight="normal" fill="#000" textLength="517.19" lengthAdjust="spacingAndGlyphs" stroke="#fff" stroke-width="0.4">Устанавливается на поддон с</text>
<text x="1130.78" y="575.30" font-size="34.3" font-family="Liberation Sans, sans-serif" font-weight="normal" fill="#000" textLength="633.86" lengthAdjust="spacingAndGlyphs" stroke="#fff" stroke-width="0.4">условными размерами 900х900 мм.</text>
<text x="573.65" y="1736.00" font-size="34.8" font-family="Liberation Sans, sans-serif" font-weight="normal" fill="#000" textLength="846.58" lengthAdjust="spacingAndGlyphs" stroke="#fff" stroke-width="0.4">Размеры указаны в ед. измерения: миллиметры</text>
<text x="1343.56" y="675.70" font-size="70" font-family="Liberation Sans, sans-serif" font-weight="normal" fill="#FF7F00" textLength="45.42" lengthAdjust="spacingAndGlyphs" stroke="#fff" stroke-width="1.1">8</text>
<text x="1386.78" y="675.70" font-size="70" font-family="Liberation Sans, sans-serif" font-weight="normal" fill="#FF7F00" textLength="45.17" lengthAdjust="spacingAndGlyphs" stroke="#fff" stroke-width="1.1">8</text>
<text x="1429.01" y="675.70" font-size="70" font-family="Liberation Sans, sans-serif" font-weight="normal" fill="#FF7F00" textLength="41.72" lengthAdjust="spacingAndGlyphs" stroke="#fff" stroke-width="1.1">5</text>
<text x="1487.98" y="675.70" font-size="70" font-family="Liberation Sans, sans-serif" font-weight="normal" fill="#FF7F00" textLength="52.36" lengthAdjust="spacingAndGlyphs" stroke="#fff" stroke-width="1.1">м</text>
<text x="1542.86" y="675.70" font-size="70" font-family="Liberation Sans, sans-serif" font-weight="normal" fill="#FF7F00" textLength="51.59" lengthAdjust="spacingAndGlyphs" stroke="#fff" stroke-width="1.1">м</text>
<text x="1298.66" y="1257.00" font-size="70" font-family="Liberation Sans, sans-serif" font-weight="normal" fill="#FF7F00" textLength="46.49" lengthAdjust="spacingAndGlyphs" stroke="#fff" stroke-width="1.1">7</text>
<text x="1342.20" y="1257.00" font-size="70" font-family="Liberation Sans, sans-serif" font-weight="normal" fill="#FF7F00" textLength="46.74" lengthAdjust="spacingAndGlyphs" stroke="#fff" stroke-width="1.1">0</text>
<text x="1219.21" y="1450.20" font-size="70" font-family="Liberation Sans, sans-serif" font-weight="normal" fill="#FF7F00" textLength="44.10" lengthAdjust="spacingAndGlyphs" stroke="#fff" stroke-width="1.1">2</text>
<text x="1258.05" y="1450.20" font-size="70" font-family="Liberation Sans, sans-serif" font-weight="normal" fill="#FF7F00" textLength="45.13" lengthAdjust="spacingAndGlyphs" stroke="#fff" stroke-width="1.1">9</text>
<text x="1302.38" y="1450.20" font-size="70" font-family="Liberation Sans, sans-serif" font-weight="normal" fill="#FF7F00" textLength="44.07" lengthAdjust="spacingAndGlyphs" stroke="#fff" stroke-width="1.1">8</text>
<text x="1523.28" y="1450.20" font-size="70" font-family="Liberation Sans, sans-serif" font-weight="normal" fill="#FF7F00" textLength="39.78" lengthAdjust="spacingAndGlyphs" stroke="#fff" stroke-width="1.1">5</text>
<text x="1586.68" y="1450.20" font-size="70" font-family="Liberation Sans, sans-serif" font-weight="normal" fill="#FF7F00" textLength="45.78" lengthAdjust="spacingAndGlyphs" stroke="#fff" stroke-width="1.1">0</text>
<polygon points="1565.5,1402 1579,1402 1579,1450.2 1574.2,1450.2 1574.2,1406.5 1565.5,1406.5" fill="#FF7F00"/>
<text x="1440.59" y="1230.00" font-size="39" font-family="Liberation Sans, sans-serif" font-weight="normal" fill="#FF7F00" textLength="242.09" lengthAdjust="spacingAndGlyphs" stroke="#fff" stroke-width="0.6">Магнитный</text>
<text x="1560.77" y="1278.90" font-size="39" font-family="Liberation Sans, sans-serif" font-weight="normal" fill="#FF7F00" textLength="125.38" lengthAdjust="spacingAndGlyphs" stroke="#fff" stroke-width="0.6">замок</text>
<text x="967.00" y="1183.59" font-size="70" font-family="Liberation Sans, sans-serif" font-weight="normal" fill="#FF7F00" textLength="43.71" lengthAdjust="spacingAndGlyphs" transform="rotate(-90 967.00 1183.59)" stroke="#fff" stroke-width="1.1">8</text>
<text x="967.00" y="1141.33" font-size="70" font-family="Liberation Sans, sans-serif" font-weight="normal" fill="#FF7F00" textLength="42.21" lengthAdjust="spacingAndGlyphs" transform="rotate(-90 967.00 1141.33)" stroke="#fff" stroke-width="1.1">5</text>
<text x="967.00" y="1101.64" font-size="70" font-family="Liberation Sans, sans-serif" font-weight="normal" fill="#FF7F00" textLength="46.02" lengthAdjust="spacingAndGlyphs" transform="rotate(-90 967.00 1101.64)" stroke="#fff" stroke-width="1.1">0</text>
<polygon points="918.8,1206.5 918.8,1189.3 967,1189.3 967,1194.1 923.5,1194.1 923.5,1206.5" fill="#FF7F00"/>
<text x="1064.60" y="1208.56" font-size="70" font-family="Liberation Sans, sans-serif" font-weight="normal" fill="#FF7F00" textLength="45.66" lengthAdjust="spacingAndGlyphs" transform="rotate(-90 1064.60 1208.56)" stroke="#fff" stroke-width="1.1">8</text>
<text x="1064.60" y="1163.95" font-size="70" font-family="Liberation Sans, sans-serif" font-weight="normal" fill="#FF7F00" textLength="44.44" lengthAdjust="spacingAndGlyphs" transform="rotate(-90 1064.60 1163.95)" stroke="#fff" stroke-width="1.1">8</text>
<text x="1064.60" y="1122.63" font-size="70" font-family="Liberation Sans, sans-serif" font-weight="normal" fill="#FF7F00" textLength="40.99" lengthAdjust="spacingAndGlyphs" transform="rotate(-90 1064.60 1122.63)" stroke="#fff" stroke-width="1.1">5</text>
<text x="1064.60" y="1064.31" font-size="70" font-family="Liberation Sans, sans-serif" font-weight="normal" fill="#FF7F00" textLength="53.13" lengthAdjust="spacingAndGlyphs" transform="rotate(-90 1064.60 1064.31)" stroke="#fff" stroke-width="1.1">м</text>
<text x="1064.60" y="1008.42" font-size="70" font-family="Liberation Sans, sans-serif" font-weight="normal" fill="#FF7F00" textLength="49.66" lengthAdjust="spacingAndGlyphs" transform="rotate(-90 1064.60 1008.42)" stroke="#fff" stroke-width="1.1">м</text>
<text x="391.00" y="1681.72" font-size="70" font-family="Liberation Sans, sans-serif" font-weight="normal" fill="#FF7F00" textLength="39.78" lengthAdjust="spacingAndGlyphs" transform="rotate(-90 391.00 1681.72)" stroke="#fff" stroke-width="1.1">3</text>
<text x="391.00" y="1641.83" font-size="70" font-family="Liberation Sans, sans-serif" font-weight="normal" fill="#FF7F00" textLength="44.70" lengthAdjust="spacingAndGlyphs" transform="rotate(-90 391.00 1641.83)" stroke="#fff" stroke-width="1.1">0</text>
</g>
</svg>
</body></html>
